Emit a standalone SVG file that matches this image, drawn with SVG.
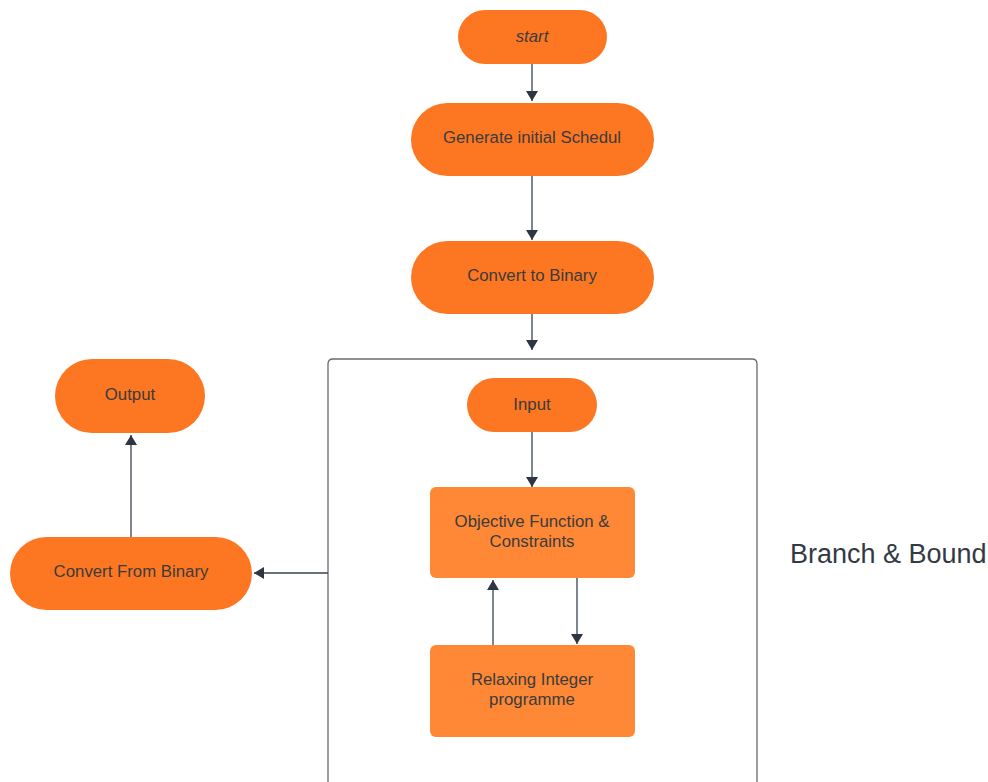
<svg xmlns="http://www.w3.org/2000/svg" width="988" height="782" viewBox="0 0 988 782">
<defs>
<style>
.pill{fill:#FD7722;}
.box{fill:#FE8836;}
.t{font-family:"Liberation Sans",Arial,sans-serif;font-size:16.8px;fill:#3b3b3b;text-anchor:middle;}
.c{stroke:#3a4250;stroke-width:1.3;fill:none;}
.frame{fill:none;stroke:#6b6b6b;stroke-width:1.3;}
</style>
<marker id="ah" viewBox="0 0 10 12" refX="10" refY="6" markerWidth="11" markerHeight="12" markerUnits="userSpaceOnUse" orient="auto">
<path d="M0,0 L10,6 L0,12 Z" fill="#2e3644"/>
</marker>
</defs>
<rect width="988" height="782" fill="#ffffff"/>
<g id="bb-frame">
<path class="frame" d="M328,782 L328,364 Q328,359 333,359 L752,359 Q757,359 757,364 L757,782"/>
</g>
<g id="connectors">
<line class="c" x1="532" y1="64" x2="532" y2="101" marker-end="url(#ah)"/>
<line class="c" x1="532" y1="176" x2="532" y2="240" marker-end="url(#ah)"/>
<line class="c" x1="532" y1="314" x2="532" y2="350" marker-end="url(#ah)"/>
<line class="c" x1="532" y1="432" x2="532" y2="487" marker-end="url(#ah)"/>
<line class="c" x1="493" y1="645" x2="493" y2="580" marker-end="url(#ah)"/>
<line class="c" x1="577" y1="578" x2="577" y2="644" marker-end="url(#ah)"/>
<line class="c" x1="328" y1="573" x2="254" y2="573" marker-end="url(#ah)"/>
<line class="c" x1="131" y1="537" x2="131" y2="435" marker-end="url(#ah)"/>
</g>
<g id="start">
<rect class="pill" x="458" y="10" width="149" height="54" rx="27"/>
<text class="t" x="532" y="42" font-style="italic">start</text>
</g>
<g id="generate">
<rect class="pill" x="411" y="103" width="243" height="73" rx="36.5"/>
<text class="t" x="532" y="143">Generate initial Schedul</text>
</g>
<g id="convert-to-binary">
<rect class="pill" x="411" y="241" width="243" height="73" rx="36.5"/>
<text class="t" x="532" y="281">Convert to Binary</text>
</g>
<g id="input">
<rect class="pill" x="467" y="378" width="130" height="54" rx="27"/>
<text class="t" x="532" y="410">Input</text>
</g>
<g id="objective">
<rect class="box" x="430" y="487" width="205" height="91" rx="6"/>
<text class="t" x="532" y="527">Objective Function &amp;</text>
<text class="t" x="532" y="547">Constraints</text>
</g>
<g id="relaxing">
<rect class="box" x="430" y="645" width="205" height="92" rx="6"/>
<text class="t" x="532" y="685">Relaxing Integer</text>
<text class="t" x="532" y="705">programme</text>
</g>
<g id="convert-from-binary">
<rect class="pill" x="10" y="537" width="242" height="73" rx="36.5"/>
<text class="t" x="131" y="577">Convert From Binary</text>
</g>
<g id="output">
<rect class="pill" x="55" y="359" width="150" height="74" rx="37"/>
<text class="t" x="130" y="400">Output</text>
</g>
<g id="label">
<text x="790" y="563" style="font-family:'Liberation Sans',Arial,sans-serif;font-size:27px;fill:#333a44;">Branch &amp; Bound</text>
</g>
</svg>
